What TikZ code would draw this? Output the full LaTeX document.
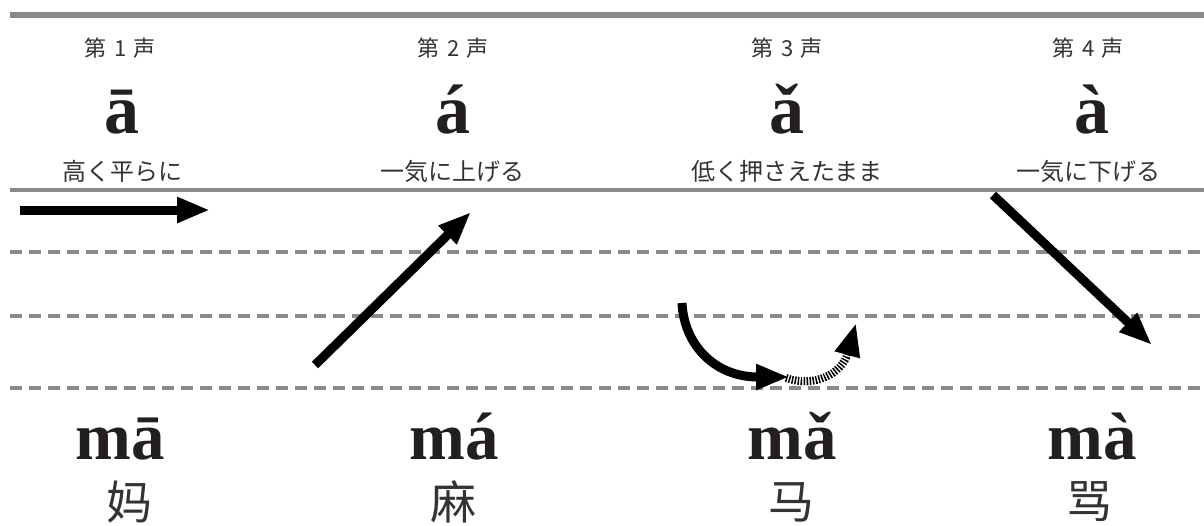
\documentclass[tikz,border=0pt]{standalone}
\usepackage{fontspec}
\newfontfamily\jpfont{Noto Sans CJK JP}
\newfontfamily\scfont{Noto Sans CJK SC}
\newfontfamily\pyfont{Liberation Serif}
\usetikzlibrary{arrows.meta}
\definecolor{linegray}{HTML}{8A8A8A}
\definecolor{textgray}{HTML}{333333}
\definecolor{inkblack}{HTML}{231F20}
\tikzset{
  thickrule/.style={draw=linegray, line width=6pt},
  rule/.style={draw=linegray, line width=3.5pt},
  dline/.style={draw=linegray, line width=3.5pt, dash pattern=on 12pt off 7pt},
  tonearrow/.style={draw=black, line width=9pt, -{Triangle[length=33pt,width=24pt]}},
  dotarrow/.style={draw=black, line width=8pt, dash pattern=on 1.5pt off 1.5pt, -{Triangle[length=33pt,width=24pt]}},
  headlbl/.style={font=\jpfont\fontsize{22}{22}\selectfont, text=textgray, inner sep=0pt},
  sublbl/.style={font=\jpfont\fontsize{24}{24}\selectfont, text=textgray, inner sep=0pt},
  vowel/.style={font=\pyfont\bfseries\fontsize{70}{70}\selectfont, text=inkblack, inner sep=0pt, anchor=base},
  syll/.style={font=\pyfont\bfseries\fontsize{67}{67}\selectfont, text=inkblack, inner sep=0pt, anchor=base},
  hanzi/.style={font=\scfont\fontsize{46}{46}\selectfont, text=textgray, inner sep=0pt}
}
\newcommand{\tonehead}[1]{第\hspace{8pt}#1\hspace{7pt}声}
\begin{document}
\begin{tikzpicture}[x=1pt,y=-1pt]
\useasboundingbox (0,0) rectangle (1204,525);
% rules
\draw[thickrule] (10,15) -- (1204,15);
\draw[rule] (10,190) -- (1204,190);
\draw[dline] (10,252) -- (1204,252);
\draw[dline] (10,316) -- (1204,316);
\draw[dline] (10,388) -- (1204,388);
% column 1
\node[headlbl] (h1) at (120,48) {\tonehead{1}};
\node[vowel] (v1) at (122,133) {ā};
\node[sublbl] (s1) at (122,171) {高く平らに};
\node[syll] (p1) at (120,459) {mā};
\node[hanzi] (c1) at (129,502) {妈};
% column 2
\node[headlbl] (h2) at (453,48) {\tonehead{2}};
\node[vowel] (v2) at (453,133) {á};
\node[sublbl] (s2) at (452,171) {一気に上げる};
\node[syll] (p2) at (454,459) {má};
\node[hanzi] (c2) at (453,502) {麻};
% column 3
\node[headlbl] (h3) at (787,48) {\tonehead{3}};
\node[vowel] (v3) at (787,133) {ǎ};
\node[sublbl] (s3) at (787,171) {低く押さえたまま};
\node[syll] (p3) at (792,459) {mǎ};
\node[hanzi] (c3) at (791,502) {马};
% column 4
\node[headlbl] (h4) at (1088,48) {\tonehead{4}};
\node[vowel] (v4) at (1092,133) {à};
\node[sublbl] (s4) at (1088,171) {一気に下げる};
\node[syll] (p4) at (1092,459) {mà};
\node[hanzi] (c4) at (1089,502) {骂};
% arrow end points
\coordinate (a1s) at (20,210);
\coordinate (a1e) at (210,210);
\coordinate (a2s) at (315,365);
\coordinate (a2e) at (471,212);
\coordinate (a3s) at (682,303);
\coordinate (a3m) at (789,377);
\coordinate (a3d) at (786,378);
\coordinate (a3e) at (856,323);
\coordinate (a4s) at (993,195);
\coordinate (a4e) at (1152,345);
% arrows
\draw[tonearrow] (a1s) -- (a1e);
\draw[tonearrow] (a2s) -- (a2e);
\draw[dotarrow] (a3d) .. controls (814,388) and (842,374) .. (a3e);
\draw[tonearrow] (a3s) .. controls (684,345) and (715,377) .. (a3m);
\draw[tonearrow] (a4s) -- (a4e);
\end{tikzpicture}
\end{document}
